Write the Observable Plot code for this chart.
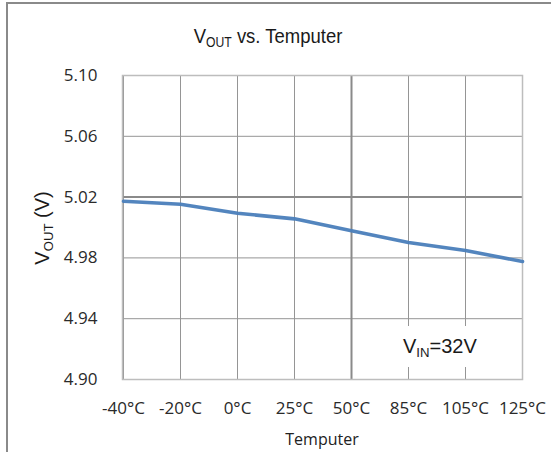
<!DOCTYPE html>
<html>
<head>
<meta charset="utf-8">
<script src="https://cdn.jsdelivr.net/npm/d3@7"></script>
<script src="https://cdn.jsdelivr.net/npm/@observablehq/plot@0.6"></script>
<style>
  html, body { margin: 0; padding: 0; background: #fff; }
  #wrap { position: relative; width: 551px; height: 456px; overflow: hidden; background: #fff; }
  #outer { position: absolute; left: 6px; top: 2px; width: 560px; height: 450px; border-left: 2px solid #8a8a8a; border-top: 2px solid #8a8a8a; box-sizing: border-box; }
  #chart { position: absolute; left: 0; top: 0; }
  .lbl { position: absolute; white-space: nowrap; font-family: "Liberation Sans", Arial, sans-serif; color: #1a1a1a; }
  .lbl sub { font-size: 0.66em; vertical-align: -0.3em; line-height: 0; }
  #title { left: 268px; top: 25px; font-size: 21px; line-height: 21px; transform: translateX(-50%) scaleX(0.88); }
  #ylab { left: 42px; top: 228px; font-size: 20px; line-height: 20px; transform: translate(-50%, -50%) rotate(-90deg); }
  #vin { left: 393px; top: 326px; height: 41px; padding: 0 10px; background: #fff; font-size: 20px; line-height: 41px; }
  #xlab { left: 322px; top: 439px; transform: translate(-50%, -50%); font-family: "Open Sans", sans-serif; font-size: 16px; color: #222; }
</style>
</head>
<body>
<div id="wrap">
  <div id="outer"></div>
  <div id="chart"></div>
  <div class="lbl" id="title">V<sub>OUT</sub> vs. Temputer</div>
  <div class="lbl" id="ylab">V<sub>OUT</sub> (V)</div>
  <div class="lbl" id="vin">V<sub>IN</sub>=32V</div>
  <div class="lbl" id="xlab">Temputer</div>
</div>
<script>
const temps = ["-40°C", "-20°C", "0°C", "25°C", "50°C", "85°C", "105°C", "125°C"];
const vout = [5.0173, 5.0153, 5.0094, 5.0057, 4.9978, 4.9901, 4.9849, 4.9776];
const yTicks = [4.90, 4.94, 4.98, 5.02, 5.06, 5.10];

const data = temps.map((t, i) => ({t, v: vout[i]}));

const chart = Plot.plot({
  width: 551,
  height: 456,
  marginLeft: 122,
  marginRight: 29,
  marginTop: 75,
  marginBottom: 77,
  style: {fontFamily: "'Open Sans', sans-serif", fontSize: "17px", color: "#2a2a2a", background: "transparent", overflow: "visible"},
  x: {type: "point", domain: temps, padding: 0, label: null},
  y: {domain: [4.90, 5.10], label: null},
  marks: [
    Plot.ruleX(temps, {stroke: "#959595", strokeWidth: 1}),
    Plot.ruleY(yTicks, {stroke: "#959595", strokeWidth: 1}),
    Plot.ruleX(["50°C"], {stroke: "#8a8a8a", strokeWidth: 2}),
    Plot.ruleY([5.02], {stroke: "#8a8a8a", strokeWidth: 2}),
    Plot.frame({stroke: "#bdbdbd", strokeWidth: 1.5}),
    Plot.axisX({tickSize: 0, tickPadding: 22, label: null, fontSize: 17}),
    Plot.axisY({ticks: yTicks, tickSize: 0, tickPadding: 25, tickFormat: d3.format(".2f"), label: null, fontSize: 17}),
    Plot.lineY(data, {x: "t", y: "v", stroke: "#4a7ebb", strokeWidth: 3.6, strokeOpacity: 0.95})
  ]
});
document.getElementById("chart").appendChild(chart);
</script>
</body>
</html>
